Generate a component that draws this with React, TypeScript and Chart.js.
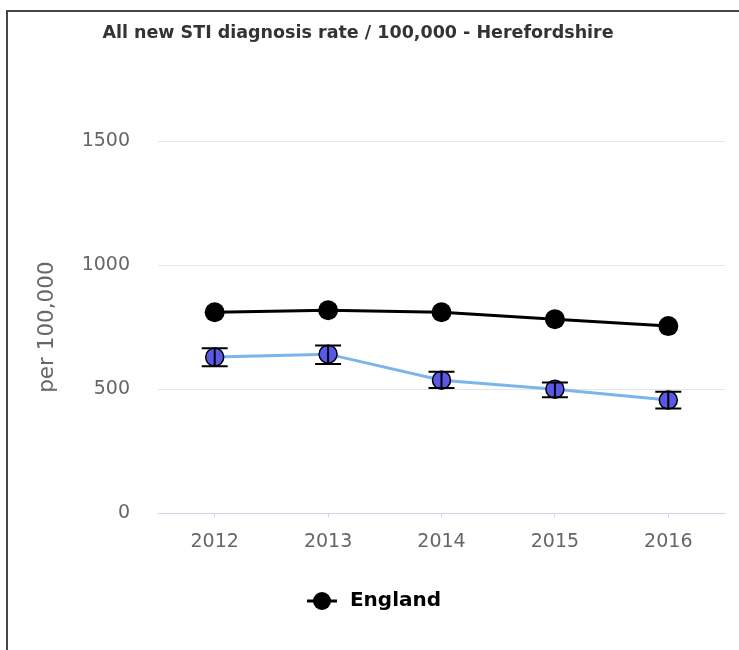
import React, { useEffect, useRef } from "react";
import { Chart, registerables } from "chart.js";

Chart.register(...registerables);

const titleText = "All new STI diagnosis rate / 100,000 - Herefordshire";
const yAxisTitle = "per 100,000";
const legendLabel = "England";
const years = ["2012", "2013", "2014", "2015", "2016"];
const englandValues = [810, 818, 810, 782, 754];
const herefordValues = [629, 641, 536, 500, 456];
const herefordLower = [592, 601, 505, 467, 422];
const herefordUpper = [665, 676, 570, 527, 489];
const yTicks = [0, 500, 1000, 1500];

const errorBarPlugin = {
  id: "errorBars",
  afterDatasetsDraw(chart: any) {
    const ctx = chart.ctx;
    const meta = chart.getDatasetMeta(1);
    const yScale = chart.scales.y;
    ctx.save();
    ctx.strokeStyle = "#000000";
    ctx.lineWidth = 2;
    meta.data.forEach((pt: any, i: number) => {
      const x = pt.x;
      const yl = yScale.getPixelForValue(herefordLower[i]);
      const yu = yScale.getPixelForValue(herefordUpper[i]);
      const hw = 13;
      ctx.beginPath();
      ctx.moveTo(x, yl);
      ctx.lineTo(x, yu);
      ctx.moveTo(x - hw, yl);
      ctx.lineTo(x + hw, yl);
      ctx.moveTo(x - hw, yu);
      ctx.lineTo(x + hw, yu);
      ctx.stroke();
    });
    ctx.restore();
  },
};

const titlePlugin = {
  id: "fixedTitle",
  afterDraw(chart: any) {
    const ctx = chart.ctx;
    ctx.save();
    ctx.fillStyle = "#333333";
    ctx.font = "bold 17.5px 'DejaVu Sans'";
    ctx.textAlign = "center";
    ctx.textBaseline = "middle";
    ctx.fillText(titleText, 358, 33);
    ctx.restore();
  },
};

function makeLegendSymbol() {
  const c = document.createElement("canvas");
  c.width = 32;
  c.height = 20;
  const g = c.getContext("2d")!;
  g.strokeStyle = "#000";
  g.lineWidth = 3;
  g.beginPath();
  g.moveTo(1, 10);
  g.lineTo(31, 10);
  g.stroke();
  g.fillStyle = "#000";
  g.beginPath();
  g.arc(16, 10, 9, 0, Math.PI * 2);
  g.fill();
  return c;
}

export default function App() {
  const ref = useRef<HTMLCanvasElement>(null);
  useEffect(() => {
    const symbol = makeLegendSymbol();
    const chart = new Chart(ref.current!, {
      type: "line",
      data: {
        labels: years,
        datasets: [
          {
            label: "England",
            data: englandValues,
            borderColor: "#000000",
            backgroundColor: "#000000",
            borderWidth: 3,
            pointRadius: 10,
            pointBorderWidth: 0,
            pointBackgroundColor: "#000000",
            tension: 0,
          },
          {
            label: "Herefordshire",
            data: herefordValues,
            borderColor: "#7cb5ec",
            backgroundColor: "#5959e6",
            borderWidth: 3,
            pointRadius: 9,
            pointBorderWidth: 1.5,
            pointBorderColor: "#000000",
            pointBackgroundColor: "#5959e6",
            tension: 0,
          },
        ],
      },
      options: {
        animation: false,
        responsive: false,
        layout: { padding: { left: 20, right: 14, top: 141, bottom: 29 } },
        plugins: {
          tooltip: { enabled: false },
          title: { display: false },
          legend: {
            display: true,
            position: "bottom",
            labels: {
              color: "#333333",
              font: { family: "DejaVu Sans", size: 20, weight: "bold" },
              usePointStyle: true,
              pointStyleWidth: 36,
              generateLabels: () => [
                {
                  text: legendLabel,
                  pointStyle: symbol,
                  fillStyle: "#000",
                  strokeStyle: "#000",
                  lineWidth: 0,
                  datasetIndex: 0,
                  hidden: false,
                },
              ],
              padding: 25,
            },
          },
        },
        scales: {
          x: {
            offset: true,
            grid: {
              display: true,
              drawOnChartArea: false,
              drawTicks: true,
              tickLength: 4,
              color: "#ccd6eb",
              offset: false,
            },
            border: { color: "#ccd6eb", width: 1, z: 1 },
            ticks: {
              color: "#666666",
              font: { family: "DejaVu Sans", size: 19 },
              padding: 13,
            },
          },
          y: {
            min: 0,
            max: 1500,
            afterBuildTicks: (axis: any) => {
              axis.ticks = yTicks.map((v) => ({ value: v }));
            },
            afterFit: (axis: any) => {
              axis.width = 138;
            },
            grid: {
              color: (c: any) => (c.tick && c.tick.value === 0 ? "rgba(0,0,0,0)" : "#e6e6e6"),
              drawTicks: false,
            },
            border: { display: false },
            ticks: {
              color: "#666666",
              font: { family: "DejaVu Sans", size: 19 },
              padding: 28,
              callback: (v: any) => String(v),
            },
            title: {
              display: true,
              text: yAxisTitle,
              color: "#666666",
              font: { family: "DejaVu Sans", size: 21.5 },
              padding: { top: 15, bottom: 0 },
            },
          },
        },
      },
      plugins: [errorBarPlugin, titlePlugin],
    } as any);
    return () => chart.destroy();
  }, []);
  return (
    <div style={{ position: "absolute", left: 0, top: 0, width: 739, height: 650, background: "#fff" }}>
      <canvas ref={ref} width={739} height={650} style={{ position: "absolute", left: 0, top: 0 }} />
      <div
        style={{
          position: "absolute",
          left: 6,
          top: 10,
          width: 733,
          height: 640,
          borderLeft: "2px solid #4a4444",
          borderTop: "2px solid #4a4444",
          pointerEvents: "none",
        }}
      />
    </div>
  );
}
